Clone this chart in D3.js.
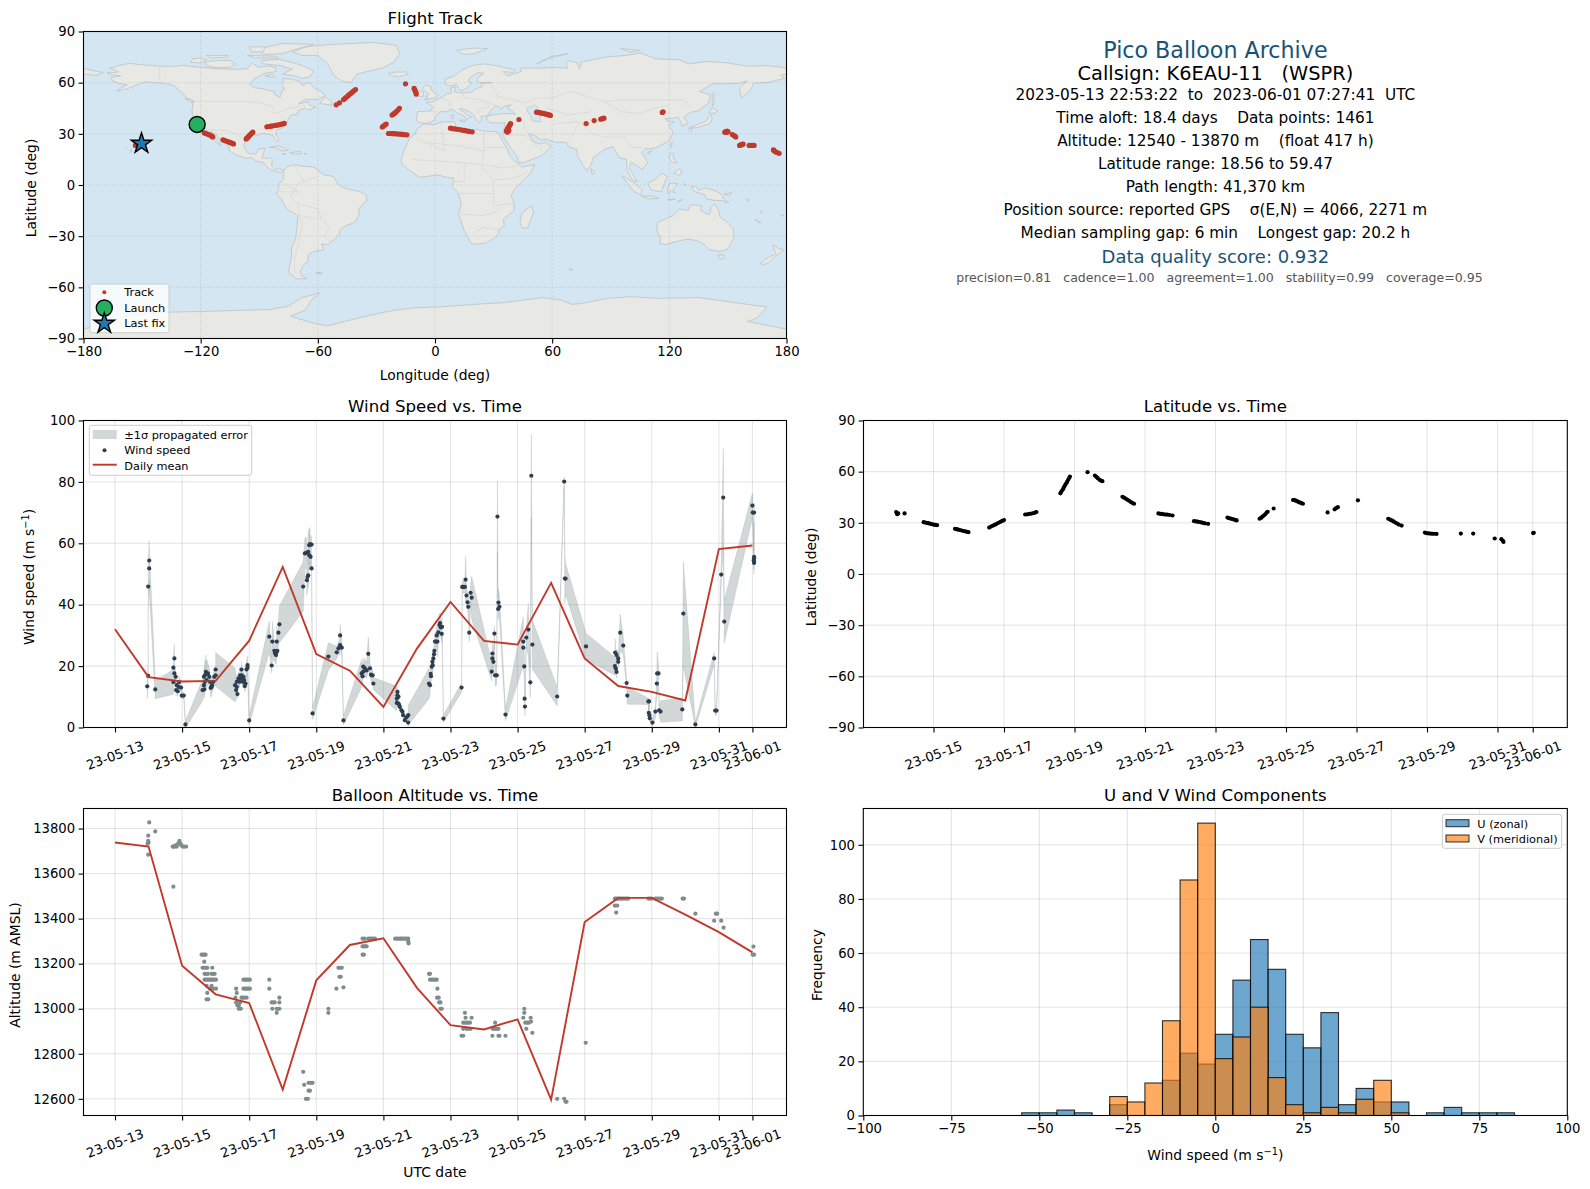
<!DOCTYPE html>
<html>
<head>
<meta charset="utf-8">
<script src="https://cdn.jsdelivr.net/npm/d3@7/dist/d3.min.js"></script>
<style>
html, body { margin: 0; padding: 0; background: #fff; }
svg { display: block; }
text { font-family: "DejaVu Sans", sans-serif; fill: #000; white-space: pre; }
</style>
</head>
<body>
<div id="chart"></div>
<script>
// days are counted from 2023-05-13 00:00 UTC
var tickDaysWind = [0, 2, 4, 6, 8, 10, 12, 14, 16, 18, 19];
var tickDaysLat = [2, 4, 6, 8, 10, 12, 14, 16, 18, 19];

var meanDays = [0, 1, 2, 3, 4, 5, 6, 7, 8, 9, 10, 11, 12, 13, 14, 15, 16, 17, 18, 19];
var meanWind = [32, 16.4, 15, 15.2, 28.3, 52.3, 23.9, 18.5, 6.7, 25.7, 40.9, 28.2, 27, 47.1, 22.5, 13.5, 11.6, 8.8, 58.1, 59.3];
var meanAlt = [13738, 13720, 13191, 13064, 13025, 12641, 13126, 13283, 13313, 13093, 12927, 12908, 12953, 12596, 13385, 13492, 13492, 13418, 13340, 13250];

var windDays = [
    0.96, 0.99, 0.99, 1.02, 1.02, 1.20,
    1.74, 1.74, 1.77, 1.77, 1.81, 1.82, 1.84, 1.87, 1.90, 1.91, 1.97, 1.99, 2.05, 2.10,
    2.61, 2.65, 2.65, 2.66, 2.68, 2.68, 2.71, 2.73, 2.73, 2.77, 2.81, 2.83, 2.85, 2.88, 2.89, 2.93, 2.96, 3.00, 3.00,
    3.58, 3.61, 3.63, 3.63, 3.65, 3.68, 3.71, 3.73, 3.76, 3.77, 3.78, 3.81, 3.83, 3.85, 3.87, 3.89, 3.92, 3.95, 3.95, 4.00,
    4.60, 4.67, 4.69, 4.75, 4.77, 4.80, 4.82, 4.82, 4.84, 4.87, 4.90,
    5.61, 5.66, 5.71, 5.72, 5.74, 5.76, 5.76, 5.79, 5.79, 5.81, 5.83, 5.86, 5.86, 5.89,
    6.36, 6.61, 6.66, 6.71, 6.71, 6.76, 6.81,
    7.35, 7.38, 7.40, 7.40, 7.45, 7.50, 7.55, 7.60, 7.63, 7.65, 7.68, 7.70,
    8.40, 8.40, 8.42, 8.42, 8.45, 8.45, 8.47, 8.49, 8.54, 8.57, 8.59, 8.64, 8.69, 8.74, 8.74,
    9.36, 9.39, 9.41, 9.42, 9.44, 9.46, 9.47, 9.49, 9.51, 9.52, 9.54, 9.57, 9.59, 9.61, 9.64, 9.67, 9.69, 9.71, 9.74, 9.75, 9.79,
    10.33, 10.35, 10.38, 10.43, 10.45, 10.48, 10.51, 10.53, 10.56, 10.60, 10.63,
    11.23, 11.25, 11.25, 11.28, 11.31, 11.33, 11.38, 11.40, 11.42, 11.43, 11.46, 11.64,
    12.17, 12.17, 12.20, 12.21, 12.22, 12.26, 12.32, 12.38, 12.41, 12.44,
    13.18, 13.39, 13.41, 13.43, 14.04,
    14.90, 14.91, 14.93, 14.95, 14.95, 15.00, 15.00, 15.06, 15.15, 15.25, 15.27,
    15.90, 15.91, 15.92, 15.93, 15.94, 16.02, 16.11, 16.15, 16.16, 16.20, 16.22, 16.26,
    16.91, 16.94, 17.30, 17.86, 17.89, 17.93, 18.07, 18.13, 18.16,
    19.00, 19.01, 19.04, 19.05, 19.05, 19.05, 19.05, 19.05
];
var windSpeed = [
    13.4, 16.8, 45.9, 54.4, 51.8, 12.4,
    14.8, 19.5, 22.5, 17.6, 16.5, 12.2, 13.8, 11.8, 13.2, 14.8, 13, 10.4, 10.4, 1,
    12.2, 13.8, 16.5, 12.4, 17, 14.9, 18.1, 15.4, 17.6, 17.6, 16.5, 14.9, 12.9, 13.2, 13.8, 14.9, 16.5, 17, 18.9,
    13.8, 12.2, 14.9, 13.2, 10.9, 16, 14.9, 17, 16, 18.9, 17, 14.9, 16.5, 15.4, 13.5, 14.3, 18.9, 20.3, 19.5, 2.3,
    29.6, 20.2, 28, 25, 24.1, 23.6, 24.6, 28, 25, 30.9, 33.6,
    45.9, 56.7, 56.9, 48, 49.1, 57.2, 49.6, 59.4, 56.1, 59.7, 55.6, 59.6, 51.8, 4.6,
    23.1, 24.5, 25.8, 26.8, 30, 26, 2.3,
    17.6, 16.7, 19.8, 18.2, 19.3, 18.6, 24, 19.3, 17.2, 17, 17, 14.3,
    9.4, 8, 11.6, 10.5, 10, 7.8, 7.3, 6.7, 5.6, 5.1, 4, 2.4, 3.3, 1.6, 4,
    14.3, 13.8, 17.5, 16.7, 19.8, 21.4, 20.3, 22.5, 23.9, 25, 28, 28, 30, 28, 31, 33.4, 34, 32.6, 30.5, 32.8, 2.9,
    13, 45.8, 45.8, 45.8, 48.2, 43, 40.8, 39.3, 30.9, 43.9, 42.3,
    18.2, 24.1, 22.5, 21.4, 30.6, 17, 17, 68.7, 38.6, 40.7, 39.3, 4.2,
    28, 26, 19.9, 9.4, 6.8, 29.3, 31.9, 14.7, 82, 27,
    10.1, 80.1, 48.5, 48.5, 26.4,
    20, 24.4, 19.2, 18.1, 23.6, 22.5, 21.4, 30.9, 26.7, 14.5, 10.4,
    8.5, 4.8, 8.5, 4, 3, 1.6, 5.2, 14.3, 17.6, 17.6, 5.6, 5.2,
    5.9, 37.1, 1, 22.5, 5.5, 5.5, 49.8, 74.9, 34.5,
    72.3, 70, 54.5, 70, 55.6, 55.1, 54, 53.6
];
var windErr = [
    4, 3, 8, 6.5, 7, 3,
    4, 3, 4.5, 3, 2, 2, 1.5, 1.5, 1.5, 2, 1.5, 1, 1, 1.2,
    3.5, 2.5, 3, 3, 5, 3, 5.5, 3, 4.5, 3.5, 3, 2.5, 3, 3, 2.5, 2.5, 3, 3, 5.5,
    5.5, 3, 2.5, 2, 1.5, 2, 2, 2.5, 2, 2.5, 2, 2, 2, 2, 2, 2, 2.5, 3, 3, 1.5,
    5, 2.5, 6.5, 3, 3, 3, 2, 5, 2, 4, 6,
    8, 5, 5, 5, 4, 7, 4, 5.5, 5, 5.5, 4, 3, 3, 2,
    4.5, 2, 2, 3, 3.5, 3, 1.5,
    4.5, 2.5, 3, 2, 3, 2.5, 5.5, 2, 2, 2, 2, 2,
    4, 1.5, 1.5, 1.5, 1, 1, 1, 1, 1, 1, 1, 1, 1, 1.2, 3.2,
    5, 3, 2, 2, 2.5, 2.5, 2.5, 3, 3, 3, 3, 3, 3, 5, 3, 3.5, 3.5, 3, 3, 3, 1.2,
    1.5, 2, 2, 2, 7.5, 2.5, 2.5, 2.5, 3, 3, 7,
    3, 4, 3, 3, 2.5, 3.5, 3, 11.5, 3.5, 4.5, 3.5, 2,
    8, 6, 4, 1.5, 3, 3, 8.5, 5, 13.5, 8,
    3, 1.5, 8, 5, 4.3,
    3, 4.5, 2, 2, 2, 2, 2, 6, 3, 1.5, 2.8,
    1, 1, 1, 1, 1, 1.2, 2, 3, 7, 3, 1.5, 3.5,
    3.8, 17, 1, 2, 1.5, 1.5, 3, 16, 7,
    4, 5, 3, 3, 3, 3, 3, 3.5
];

var latDays = [
    0.94, 0.97, 1.00, 1.18,
    1.72, 1.76, 1.80, 1.85, 1.90, 1.95, 2.00, 2.05, 2.10,
    2.61, 2.66, 2.70, 2.75, 2.80, 2.85, 2.90, 2.95, 2.99,
    3.58, 3.63, 3.68, 3.73, 3.78, 3.84, 3.90, 3.95, 4.00,
    4.60, 4.66, 4.72, 4.78, 4.84, 4.88, 4.92,
    5.60, 5.63, 5.67, 5.70, 5.73, 5.76, 5.79, 5.82, 5.85, 5.87,
    6.37, 6.58, 6.62, 6.66, 6.71, 6.75, 6.79,
    7.36, 7.40, 7.45, 7.50, 7.55, 7.60, 7.65, 7.69,
    8.38, 8.43, 8.48, 8.53, 8.58, 8.63, 8.70, 8.78,
    9.39, 9.44, 9.49, 9.54, 9.59, 9.64, 9.70, 9.79,
    10.34, 10.38, 10.43, 10.48, 10.53, 10.57, 10.60,
    11.25, 11.29, 11.33, 11.37, 11.41, 11.45, 11.48, 11.65,
    12.20, 12.24, 12.28, 12.32, 12.36, 12.40, 12.44, 12.48,
    13.18, 13.38, 13.42, 13.47, 14.04,
    14.90, 14.95, 15.00, 15.05, 15.10, 15.15, 15.20, 15.28,
    15.94, 15.98, 16.04, 16.10, 16.15, 16.20, 16.27,
    16.96, 17.31, 17.92, 18.11, 18.15, 18.17, 19.01, 19.03
];
var latDeg = [
    36.3, 35.1, 35.5, 35.5,
    30.4, 30.2, 30, 29.8, 29.5, 29.2, 29, 28.8, 28.6,
    26.5, 26.3, 26, 25.8, 25.5, 25.2, 25, 24.7, 24.5,
    27.2, 27.8, 28.3, 28.8, 29.3, 30, 30.6, 31.1, 31.6,
    34.9, 35, 35.2, 35.4, 35.7, 36, 36.3,
    47.3, 48.5, 49.6, 50.8, 52, 53, 54, 55.2, 56.3, 57.1,
    59.7, 57.7, 57, 56.2, 55.2, 54.8, 54.4,
    45.3, 44.8, 44.2, 43.5, 42.9, 42.2, 41.6, 41.2,
    35.5, 35.3, 35.2, 35, 34.9, 34.8, 34.6, 34.3,
    31, 30.9, 30.7, 30.5, 30.3, 30, 29.7, 29.4,
    33.1, 32.8, 32.5, 32.2, 31.9, 31.6, 31.4,
    32.4, 32.9, 33.6, 34.3, 35, 36, 36.5, 38.4,
    43.4, 43.3, 43, 42.6, 42.2, 41.9, 41.5, 41.2,
    36.1, 37.9, 38.6, 39.2, 43.2,
    32.4, 31.9, 31.4, 30.8, 30.2, 29.6, 29, 28.4,
    24.3, 24, 23.8, 23.7, 23.6, 23.6, 23.5,
    23.7, 23.7, 20.8, 20.4, 19.6, 18.8, 24, 24.2
];

var altDays = [
    0.97, 0.99, 0.99, 1.00, 0.99, 1.02, 1.20, 1.74,
    1.72, 1.75, 1.78, 1.80, 1.84, 1.88, 1.92, 1.95, 1.98, 2.02, 2.06, 2.12,
    2.58, 2.62, 2.66, 2.70, 2.66,
    2.61, 2.66, 2.71, 2.75, 2.90,
    2.67, 2.72, 2.77, 2.88, 2.93, 2.97,
    2.67, 2.71, 2.75, 2.79, 2.83, 2.87, 2.91, 2.95, 3.01,
    2.73, 2.88, 2.83, 2.88, 2.93, 3.01, 2.75, 2.73, 2.78,
    3.61, 3.63, 3.59, 3.77, 3.85, 3.92, 3.61, 3.73, 3.65, 3.69, 3.75, 3.69, 3.80,
    3.83, 3.88, 3.92, 3.97, 4.02, 3.83, 3.88, 3.92, 3.97, 4.02,
    4.60, 4.60, 4.90, 4.67, 4.72, 4.76, 4.90, 4.69, 4.82, 4.86, 4.90, 4.82,
    5.61, 5.64, 5.77, 5.83, 5.89, 5.77, 5.81, 5.69, 5.75,
    6.36, 6.36,
    6.60, 6.81, 6.66, 6.70, 6.76, 6.69, 6.73,
    7.38, 7.44, 7.55, 7.60, 7.65, 7.70, 7.75, 7.38, 7.42, 7.46, 7.50, 7.38, 7.42,
    8.35, 8.40, 8.45, 8.50, 8.54, 8.59, 8.64, 8.69, 8.74, 8.74, 8.75,
    9.36, 9.39, 9.39, 9.44, 9.49, 9.54, 9.59, 9.61, 9.60, 9.65, 9.66, 9.70, 9.70, 9.74,
    10.43, 10.45, 10.63, 10.38, 10.43, 10.48, 10.53, 10.58, 10.38, 10.48, 10.53, 10.60, 10.33, 10.38,
    11.33, 11.26, 11.32, 11.38, 11.43, 11.25, 11.43, 11.46, 11.64,
    12.20, 12.20, 12.17, 12.39, 12.23, 12.29, 12.33, 12.40, 12.26, 12.44,
    13.18, 13.39, 13.43, 13.46, 14.03,
    14.90, 14.94, 14.98, 15.02, 15.06, 15.10, 15.15, 15.20, 15.25, 15.30, 14.90, 14.97, 14.94,
    15.90, 15.95, 16.00, 16.10, 16.15, 16.20, 16.25, 16.30,
    16.92, 16.96, 17.30, 17.91, 17.95, 17.86, 18.07, 18.14, 19.03, 19.01, 19.05
];
var altMeters = [
    13733, 13769, 13745, 13738, 13684, 13827, 13787, 13542,
    13720, 13720, 13720, 13725, 13720, 13733, 13745, 13733, 13725, 13720, 13720, 13720,
    13240, 13240, 13240, 13240, 13209,
    13182, 13182, 13182, 13182, 13182,
    13155, 13155, 13155, 13155, 13155, 13155,
    13129, 13129, 13129, 13129, 13129, 13129, 13129, 13129, 13129,
    13102, 13102, 13089, 13089, 13089, 13089, 13070, 13042, 13042,
    13089, 13070, 13049, 13049, 13049, 13049, 13028, 13028, 13015, 13000, 13000, 13015, 13049,
    13129, 13129, 13129, 13129, 13129, 13089, 13089, 13089, 13089, 13089,
    13129, 13089, 13049, 13028, 13028, 13028, 13028, 13000, 13000, 13000, 13000, 12982,
    12720, 12662, 12671, 12671, 12671, 12636, 12636, 12600, 12600,
    13000, 12982,
    13089, 13095, 13182, 13182, 13182, 13142, 13142,
    13311, 13311, 13311, 13311, 13311, 13311, 13311, 13277, 13277, 13277, 13277, 13240, 13240,
    13311, 13311, 13311, 13311, 13311, 13311, 13311, 13311, 13311, 13300, 13290,
    13155, 13155, 13129, 13129, 13129, 13129, 13129, 13089, 13049, 13049, 13028, 13028, 13000, 13000,
    12982, 12960, 12960, 12938, 12938, 12938, 12938, 12938, 12911, 12911, 12911, 12911, 12880, 12880,
    12938, 12911, 12911, 12911, 12911, 12880, 12880, 12880, 12880,
    13000, 12982, 12960, 12960, 12938, 12938, 12938, 12943, 12911, 12893,
    12600, 12600, 12587, 12587, 12849,
    13489, 13489, 13489, 13489, 13489, 13489, 13489, 13489, 13489, 13489, 13458, 13458, 13427,
    13489, 13489, 13489, 13489, 13489, 13489, 13489, 13489,
    13489, 13489, 13422, 13422, 13422, 13391, 13391, 13360, 13276, 13240, 13240
];

// left edges of the 5 m/s bins
var binEdges = [-55, -50, -45, -40, -35, -30, -25, -20, -15, -10, -5, 0, 5, 10, 15, 20, 25, 30, 35, 40, 45, 50, 55, 60, 65, 70, 75, 80];
var uCounts = [1, 1, 2, 1, 0, 4, 0, 0, 13, 23, 19, 30, 50, 65, 54, 30, 25, 38, 4, 10, 5, 5, 0, 1, 3, 1, 1, 1];
var vCounts = [0, 0, 0, 0, 0, 7, 5, 12, 35, 87, 108, 21, 29, 40, 14, 4, 1, 3, 1, 6, 13, 1, 0, 0, 0, 0, 0, 0];

var trackLon = [
    -153.4, -118.2, -117.4, -116.6, -115.8, -115, -114.3, -113.8,
    -108.6, -107.8, -107, -106.2, -105.4, -104.6, -103.8, -103.2,
    -96.7, -96.2, -95.7, -95.2, -94.7, -94.2, -93.7, -93.3,
    -86.1, -85, -84, -83, -82, -81, -80, -79, -78, -77.2,
    -50.6, -48.9, -46.8, -46, -45.2, -44.4, -43.6, -42.8, -42, -41.4, -40.7,
    -15.1, -10.7, -10.4, -10.1, -9.8, -9.6,
    -22, -21.2, -20.4, -19.6, -18.9, -18.2,
    -27, -26.4, -25.7, -25,
    -23.8, -22.8, -21.8, -20.8, -19.8, -18.8, -17.8, -16.8, -15.8, -14.4,
    7.9, 9, 10.2, 11.4, 12.6, 13.8, 15, 16.2, 17.4, 19,
    36.6, 36.8, 37, 37.3, 37.6, 37.9, 38.2, 38.5, 38.7, 37.2, 37.8, 43,
    52, 52.8, 53.6, 54.4, 55.2, 56, 56.8, 57.6, 58.4, 59.1,
    77.4, 81.5, 84.9, 85.7, 86.5, 116.4, 116.8,
    148.4, 149, 149.6, 150.1, 149.2, 152.3, 153.2, 154,
    156, 156.6, 157.2, 157.8, 160.9, 161.7, 162.5, 163.4,
    173.3, 173.6, 174, 175, 176.2
];
var trackLat = [
    23.2, 30.6, 30.2, 29.9, 29.5, 29.1, 28.6, 28.2,
    26.5, 26.2, 25.8, 25.5, 25.1, 24.8, 24.4, 24.1,
    27, 27.6, 28.2, 28.8, 29.4, 30, 30.5, 31,
    34.1, 34.3, 34.5, 34.7, 34.9, 35.1, 35.3, 35.6, 35.8, 36.1,
    47, 48.2, 50.1, 50.9, 51.7, 52.5, 53.3, 54, 54.8, 55.4, 56,
    59.3, 56.6, 55.9, 55.1, 54.1, 53.3,
    41, 41.7, 42.4, 43.2, 44.1, 45,
    34, 34.6, 35.2, 35.7,
    30.2, 30.2, 30.1, 30.1, 30, 29.9, 29.8, 29.7, 29.5, 29.4,
    33.3, 33.1, 32.9, 32.7, 32.5, 32.2, 32, 31.7, 31.4, 31.2,
    31.5, 32, 32.6, 33.2, 33.8, 34.4, 35, 35.5, 36, 31, 32, 38.4,
    42.7, 42.6, 42.4, 42.2, 42, 41.8, 41.6, 41.4, 41.1, 40.8,
    36, 37.8, 38.6, 38.9, 39.2, 42.5, 42.9,
    31, 31.3, 31.6, 31.2, 30.8, 29.6, 28.9, 28.2,
    23.2, 23.5, 23.8, 24, 23.2, 23.2, 23.2, 23.2,
    20.6, 20.2, 19.8, 19.1, 18.56
];
var launchLon = -121.8, launchLat = 35.5;
var lastLon = -150.3, lastLat = 24.3;

var infoLines = [
    "Pico Balloon Archive",
    "Callsign: K6EAU-11   (WSPR)",
    "2023-05-13 22:53:22  to  2023-06-01 07:27:41  UTC",
    "Time aloft: 18.4 days    Data points: 1461",
    "Altitude: 12540 - 13870 m    (float 417 h)",
    "Latitude range: 18.56 to 59.47",
    "Path length: 41,370 km",
    "Position source: reported GPS    σ(E,N) = 4066, 2271 m",
    "Median sampling gap: 6 min    Longest gap: 20.2 h",
    "Data quality score: 0.932",
    "precision=0.81   cadence=1.00   agreement=1.00   stability=0.99   coverage=0.95"
];
var infoBaselines = [58.3, 80, 100.3, 123.3, 145.9, 169.3, 192.3, 215, 238.3, 263.3, 282.3];
var infoSizes = [22.2, 19.4, 15.3, 15.3, 15.3, 15.3, 15.3, 15.3, 15.3, 18, 12.55];
var infoColors = ["#1A5276", "#000", "#000", "#000", "#000", "#000", "#000", "#000", "#000", "#1A5276", "#555"];
var infoCenters = [1215.4, 1215.4, 1215.4, 1215.4, 1215.4, 1215.4, 1215.4, 1215.4, 1215.4, 1215.4, 1219.5];

// rough coastlines, [lon, lat]
var landPolygons = [
    // North America
    [[-168,65.7],[-162,66.2],[-164,67.5],[-166.5,68.4],[-161,70.3],[-156.5,71.3],[-150,70.5],[-141,69.7],[-135,69.5],[-128,70.2],[-125,69.5],[-115,68.5],[-108,68],[-102,67.8],[-96,68.2],[-94,71.5],[-90,69],[-85,69.8],[-81.5,68.8],[-81.5,66.5],[-87,65.5],[-90,63.8],[-93,61.8],[-94.8,59],[-92.5,57],[-88,56.5],[-85,55.3],[-82.3,55],[-82,52.9],[-79.5,51.3],[-79,52.5],[-78.5,55],[-77,56],[-78.5,58.8],[-77.5,60.5],[-78,62.4],[-73,62],[-69.5,61],[-68,58.5],[-65.5,59.8],[-64,60],[-61.5,56.5],[-58,54.5],[-56,52.5],[-60,50.2],[-66.5,50.2],[-70,47.5],[-65,49],[-64.5,47],[-61,45.5],[-65,44],[-66.5,45],[-70,43.7],[-70.5,41.7],[-74,40.7],[-75.5,38],[-76,35.5],[-78,33.8],[-81,32],[-81.5,30],[-80,26.8],[-80.5,25.2],[-82,27],[-83,29],[-85,29.7],[-89,30.2],[-90,29.2],[-94,29.6],[-97,28],[-97.5,25],[-97.8,22.5],[-96,19],[-94.5,18.2],[-91.5,18.5],[-90.5,21],[-87,21.5],[-88,18],[-88.7,15.8],[-84,15.8],[-83.3,14.8],[-83.7,11],[-82,9],[-79.5,9.5],[-77.5,8.7],[-78,7.5],[-80,7.5],[-81.5,8],[-83.5,8.5],[-85.5,10],[-87.5,13],[-91.5,14],[-94,16],[-97,15.8],[-101.5,17.5],[-105.5,20],[-105.5,22.5],[-109,25.8],[-112.5,29.8],[-114.7,31.5],[-113,28],[-110,24],[-109.5,23],[-112,25],[-115,28],[-116.5,31.5],[-117.3,33],[-120.5,34.5],[-122,36.8],[-124,40],[-124.5,43],[-124,46.5],[-124.5,48.4],[-123,49],[-127,51],[-130,54.5],[-133.5,58],[-138,59.5],[-144,60],[-148,60.5],[-152,59],[-154,58],[-158,56.3],[-163,55],[-160,57.5],[-157.5,58.8],[-162,59.5],[-165,61],[-166,63],[-161,64],[-166,64.7]],
    // Arctic Canada
    [[-80,73.7],[-72,71.5],[-68,70],[-62,67],[-64,63.5],[-68,62.5],[-72,64],[-78,65],[-73,68],[-79,70],[-88,71],[-89,73]],
    [[-117,70],[-112,68.7],[-105,69],[-102,71],[-105,73],[-112,73],[-118,72]],
    [[-90,80],[-78,83],[-62,82.5],[-70,80],[-78,77],[-88,76.5]],
    [[-125,72],[-120,71.5],[-117,73.5],[-120,74.5],[-124,74]],
    [[-96,76],[-82,75.5],[-80,74.5],[-92,74.5]],
    [[-117,76],[-106,76],[-106,75],[-115,74.5]],
    [[-95,81],[-87,81],[-88,78],[-94,78]],
    [[-87,64],[-82,63],[-83,65]],
    [[-59,47.8],[-53,46.8],[-53,49],[-56,51.5],[-58,49.5]],
    [[-128,50.7],[-125,50],[-123.5,48.5],[-125.5,48.8]],
    // Caribbean, Hawaii
    [[-85,22],[-80,23],[-75,20.5],[-78,20],[-82,22]],
    [[-74.5,19],[-69,19.7],[-68.5,18.5],[-72,18]],
    [[-78.3,18.4],[-76.3,18.2],[-77.3,17.8]],
    [[-67.2,18.5],[-65.6,18.4],[-66.8,17.9]],
    [[-156,20.7],[-155,19.8],[-155.7,19]],
    [[-158.2,21.6],[-157.7,21.5],[-158,21.2]],
    // Greenland, Iceland, Europe islands
    [[-73,78],[-66,81],[-55,82.3],[-32,83.6],[-20,82],[-18,77],[-21,72],[-27,68.5],[-33,67],[-40,65],[-43,60],[-48,61],[-52,64.5],[-54,69],[-55,71],[-60,76],[-68,76]],
    [[-24,65.5],[-20,66.2],[-15,66.3],[-13.7,65],[-18,63.5],[-22.5,64]],
    [[-5.5,50],[1,51.2],[1.7,52.7],[0,53.5],[-2,56],[-2,57.7],[-5,58.6],[-6.3,56.5],[-4.7,54.7],[-3,53.4],[-5,52],[-3.5,51.3]],
    [[-10,52],[-6,52],[-6,54.5],[-8,55.2],[-10,54]],
    [[11,79],[20,80.3],[27,80],[20,77],[15,76.5]],
    [[52,71],[56,73.5],[68,77],[60,75.5],[55,72.5]],
    [[95,80],[105,79],[100,78]],
    [[8.5,41],[9.7,41],[9.5,39],[8.5,39]],
    [[12.5,38],[15.5,38],[15,36.7]],
    // Eurasia
    [[-5.5,36],[-9,37],[-9.5,39],[-9,43],[-2,43.4],[-1.2,46],[-4.5,48.4],[-1.5,48.7],[1.5,50.2],[3.5,51.4],[6,53.4],[8.5,54],[8,57],[10.5,57.5],[10,54.5],[14,54],[19,54.5],[21,56.5],[24,57.5],[24,59.5],[29,60],[23,60],[21.5,61],[22,63],[25,65.5],[22,65.8],[18,63],[17,61],[18.8,59.8],[16.5,57],[14.3,55.5],[12.8,55.5],[11,59],[8,58],[5.5,59],[5,62],[10,64],[14,67.5],[19,70],[25,71],[31,70],[41,67.5],[40,66],[35,66.5],[37,64],[40,65],[44,66.5],[44,68.5],[54,68.5],[60,69],[68,68.5],[67,71],[69,73],[73,71.5],[74,68],[75,72],[81,73.5],[87,75],[98,76],[105,77.5],[113,74],[125,73.5],[130,71],[140,72.5],[150,71.5],[160,69.7],[170,70],[178,69],[180,68.5],[180,65],[177,64.5],[179,62.5],[170,60],[163,59.8],[162,56],[156.7,51],[156,57],[160,61],[155,59.5],[142,59.3],[135.5,54.7],[141,53],[140,48],[135,43.5],[130.5,42.5],[127.5,39.7],[129.5,36],[126.5,34.5],[126,37],[124.5,39.8],[121.5,39],[118,39],[119,37.3],[122.5,37],[119.5,35],[122,31],[120,26],[114,22.3],[110,21],[108,21.5],[105.8,19],[109,13],[106,9],[105,10],[100.5,13.5],[99.5,10],[103.5,2],[101,3],[98.5,8],[98,15],[94.5,16],[91,22.5],[87,21],[81,16],[80,12],[78,8.2],[76,11],[73,17],[72.5,21],[69,22],[67,25],[61,25.2],[57,27],[54,26.5],[51,29],[48,30],[50,26],[51.5,25],[54,24],[56.3,25],[59.5,22.5],[55,17.5],[52,16],[45,13],[43,13],[42,17],[39,21],[35.5,27.5],[34.8,29.5],[34.9,31.5],[36,36.5],[32,36.2],[28,36.6],[26.5,38.5],[26.5,40],[29,41],[35,42],[41.5,41.5],[38,44.5],[37,45.3],[39,47],[35,46],[34,44.5],[33,45.5],[31,46.5],[28,43],[28,41.5],[26.2,40.7],[23.5,40],[24,38],[22.5,36.5],[21,38.5],[19.5,41.5],[18.5,42.5],[14,45],[12.5,44.5],[16,41.5],[18.5,40],[16.8,39],[16,38],[15.5,40],[11,42.5],[8.8,44.4],[6,43],[3.2,43],[0.5,40.5],[-0.5,38],[-2,36.8]],
    [[-180,68.5],[-175,67],[-170,66],[-173,64.3],[-180,65]],
    // Africa
    [[-5.5,35.8],[-1,35.2],[3,36.8],[10,37.2],[11,33.5],[15,32.5],[19,30.3],[21,32.8],[25,31.7],[32,31.2],[32.5,30],[34,27],[37,21],[38,18],[40,15],[43,12],[44.5,10.5],[51,12],[49,7],[45,2.5],[41,-2],[39,-6],[40.5,-11],[40.5,-15],[35,-20],[35.5,-24],[32.7,-26],[32.5,-28.5],[30,-31.5],[26,-34],[20,-34.8],[18.3,-34],[15,-27],[12,-17],[13.5,-11],[12,-5],[9,-1],[9.5,4],[6,4.5],[1,6],[-4,5],[-8,4.5],[-13,8.5],[-17,12],[-17.3,15],[-16,20],[-13,27.5],[-10,30],[-9.5,32.5]],
    [[49.3,-12],[50.4,-16],[47.5,-25],[45,-25.5],[43.5,-22],[44.5,-16.5]],
    // South America
    [[-77.5,8.7],[-75,11],[-72,12],[-68,11],[-62,10.5],[-57,6],[-52,5],[-50,1],[-48,-1],[-44,-2.5],[-38,-4],[-35,-6],[-35,-9],[-39,-14],[-39,-18],[-41,-22],[-45,-23.5],[-48.5,-26],[-49,-29],[-52,-32.5],[-55,-35],[-58,-34.5],[-57,-38],[-62,-39],[-65,-41],[-65,-45],[-67,-46.5],[-69,-50.5],[-68.5,-53],[-65.5,-55],[-71,-55],[-75,-51],[-73.5,-42],[-73.5,-37],[-71.5,-32],[-70.5,-24],[-70.3,-18],[-76,-14],[-79,-8],[-81.3,-5],[-80,-2.5],[-80,1],[-78.5,2],[-77.5,4]],
    [[-61,-51.5],[-58,-51.3],[-58.5,-52.3]],
    // Australia and around
    [[114,-22],[113.5,-26],[115.5,-32],[115,-34.3],[118,-35],[124,-33],[129,-31.7],[134,-32.5],[138,-35],[140.5,-38],[146,-39],[150,-37.5],[153,-31],[153,-26],[149,-21],[146,-19],[145.3,-15],[143,-11],[141.5,-13],[140.5,-17.5],[136,-15],[136.5,-12],[131,-11.5],[129.5,-15],[125,-14],[122,-18],[117,-20.5]],
    [[145,-41],[148,-41],[147.8,-43],[146,-43.5]],
    [[173,-35],[175.5,-37],[178.5,-38],[175,-41.5],[174,-39]],
    [[173,-41],[174,-42],[171,-45.5],[168,-46.7],[166.5,-46],[170,-43]],
    [[131,-0.8],[134,-1],[135,-3.2],[138,-1.6],[144,-3.5],[147,-6],[148,-8.5],[150.5,-10.5],[146.5,-9],[143,-9],[139,-8],[138,-5.5],[133,-4]],
    [[148,-5.5],[152,-4.2],[151,-6]],
    [[164,-20],[167,-22],[165.5,-22]],
    [[177.3,-17.5],[178.5,-18],[177.5,-18.3]],
    [[159.5,-8],[161,-9],[160,-9.5]],
    [[167,-15],[167.5,-16.5],[166.8,-16]],
    // South East Asia
    [[109,1.5],[113,3.2],[116,7],[119,5],[117.5,1],[116,-4],[111,-3],[109.5,-0.5]],
    [[95.5,5.5],[98,4],[103.5,0],[106,-3],[105.5,-5.8],[102,-4],[98.5,1]],
    [[105.5,-6.5],[111,-6.5],[114.5,-7.8],[110,-8.2]],
    [[119.5,-5.5],[120.5,-3],[123,-5],[122,-2],[124.5,1],[120,1],[119,-3]],
    [[120.5,18.5],[122,18.5],[122,16],[124,13],[121,13.5],[120,16]],
    [[122,7],[125.5,9.7],[126.5,7],[125,5.8]],
    [[124,-10],[127,-8.4],[125,-9.5]],
    [[119,-8.5],[123,-8.3],[120,-8.9]],
    [[127.5,1],[128.5,-0.5],[127.8,0]],
    [[120.2,23],[121.5,25.2],[121,22]],
    [[108.7,19],[111,20],[110,18.3]],
    [[80,9.7],[82,7.5],[80.5,6]],
    [[130.8,34],[135,35.7],[139,37.5],[140,40],[141.5,41],[142,39],[140.8,36],[137,34.7],[135,33.7],[132,33.5]],
    [[130,33.5],[131.7,33],[131,31],[130,32]],
    [[140.3,42],[141.7,45.4],[145,43.5],[143,42]],
    [[142,46],[143,49],[143,54],[142,53],[142,49]],
    [[69,-49],[70.5,-49.5],[69,-50]],
    // Antarctica
    [[-180,-84.5],[-165,-80],[-158,-76.5],[-135,-74.5],[-115,-74],[-100,-73.5],[-85,-73],[-75,-71],[-68,-66],[-59,-63.3],[-63,-67],[-66.5,-73.4],[-74,-77],[-62,-81],[-55.4,-82.6],[-43.4,-79.2],[-33,-76.3],[-21,-73.4],[-10,-72],[2.7,-71.4],[20,-70],[35,-69],[45,-67.5],[55,-66],[65,-67.5],[70,-70],[75,-69.5],[88,-66.5],[100,-65.5],[115,-66.5],[135,-66],[145,-67.5],[160,-70],[170,-71.5],[165,-78],[160,-80],[180,-84.5],[180,-90],[-180,-90]]
];
var lakePolygons = [
    [[47,45],[51,47],[53,45],[51,43],[53.8,41],[54,37],[50,37.5],[49,40.5],[47.5,43]]
];
var borderLines = [
    [[-123,49],[-95,49],[-89,48],[-83,46],[-82.5,42],[-79,43],[-75,45],[-70,46],[-67,47],[-67,45]],
    [[-141,70],[-141,60],[-135,59]],
    [[-117,32.5],[-106.5,31.8],[-101,29.5],[-97.5,26]],
    [[-60,5],[-70,1],[-74,-7],[-70,-11],[-60,-14],[-58,-20],[-54,-25],[-57,-30],[-53,-33.5]],
    [[-69.5,-18],[-68,-23],[-70,-33],[-72,-45],[-72,-51],[-68.5,-52.5]],
    [[-70,-11],[-69.5,-18],[-58,-20]],
    [[-78,1],[-70,-4],[-81,-4]],
    [[-72,12],[-67,1]],
    [[28,60],[32,52],[40,50],[47,48],[50,51],[60,51],[70,55],[80,51],[87,49],[98,50],[110,50],[120,50],[127,50],[131,45]],
    [[74,37],[80,30],[88,28],[97,28],[100,22],[106,22]],
    [[87,49],[95,43],[105,42],[112,45],[120,47]],
    [[52,42],[58,45],[68,41],[80,43]],
    [[61,36],[74,37],[68,25]],
    [[45,38],[46,33],[48,30]],
    [[35,29.5],[47,29],[52,23],[55,20]],
    [[-1.8,43.3],[3,42.5]],
    [[2.5,51],[8,49],[7.5,44]],
    [[14,54],[15,51],[24,50],[28,46],[22,44],[22.5,41]],
    [[24,50],[32,46]],
    [[-8.7,27.5],[-5,25],[12,23],[25,20],[25,31.5]],
    [[25,22],[37,22]],
    [[-12,15],[15,13],[24,12],[34,10],[42,11]],
    [[12,-5],[30,-5],[30,-12],[40,-11]],
    [[12,-17],[25,-18],[33,-15]],
    [[20,-28],[25,-25],[32,-26]],
    [[15,13],[15,2],[10,2]],
    [[25,20],[24,10],[30,3],[30,-5]],
    [[30,3],[41,4],[48,8]],
    [[3,37],[5,20],[-5,25]]
];

var width = 1590, height = 1189;
var tickFont = 13.2;
var labelFont = 13.9;
var legendFont = 11.3;
var red = "#C0392B";

var svg = d3.select("#chart").append("svg")
    .attr("width", width)
    .attr("height", height);

var defs = svg.append("defs");
var clipCount = 0;

function makePanel(box, titleText, titleGap) {
    var g = svg.append("g");
    var id = "clip" + (clipCount++);
    defs.append("clipPath").attr("id", id).append("rect")
        .attr("x", box.left).attr("y", box.top)
        .attr("width", box.right - box.left).attr("height", box.bottom - box.top);
    var panel = {
        box: box,
        g: g,
        back: g.append("g"),
        marks: g.append("g").attr("clip-path", "url(#" + id + ")"),
        front: g.append("g")
    };
    panel.front.append("rect")
        .attr("x", box.left).attr("y", box.top)
        .attr("width", box.right - box.left).attr("height", box.bottom - box.top)
        .attr("fill", "none").attr("stroke", "#000").attr("stroke-width", 1.1);
    panel.front.append("text")
        .attr("x", (box.left + box.right) / 2).attr("y", box.top - titleGap)
        .attr("text-anchor", "middle").attr("font-size", 16.6)
        .text(titleText);
    return panel;
}

function drawGrid(layer, box, xScale, xTicks, yScale, yTicks, stroke, opacity, dash, lineWidth) {
    layer.selectAll("line.gx").data(xTicks).enter().append("line")
        .attr("class", "gx")
        .attr("x1", function (d) { return xScale(d); }).attr("x2", function (d) { return xScale(d); })
        .attr("y1", box.top).attr("y2", box.bottom);
    layer.selectAll("line.gy").data(yTicks).enter().append("line")
        .attr("class", "gy")
        .attr("y1", function (d) { return yScale(d); }).attr("y2", function (d) { return yScale(d); })
        .attr("x1", box.left).attr("x2", box.right);
    layer.selectAll("line.gx,line.gy")
        .attr("stroke", stroke).attr("stroke-opacity", opacity)
        .attr("stroke-width", lineWidth).attr("stroke-dasharray", dash);
}

function drawAxes(panel, xScale, xTicks, xFormat, yScale, yTicks, rotated) {
    var box = panel.box;
    var bottom = d3.axisBottom(xScale).tickValues(xTicks).tickSize(4.9).tickPadding(3.5).tickFormat(xFormat);
    var left = d3.axisLeft(yScale).tickValues(yTicks).tickSize(4.9).tickPadding(3.5).tickFormat(d3.format("d"));
    var gx = panel.front.append("g").attr("transform", "translate(0," + box.bottom + ")").call(bottom);
    var gy = panel.front.append("g").attr("transform", "translate(" + box.left + ",0)").call(left);
    gx.select(".domain").remove();
    gy.select(".domain").remove();
    gx.selectAll("text").attr("font-size", tickFont).attr("font-family", null);
    gy.selectAll("text").attr("font-size", tickFont).attr("font-family", null);
    gx.selectAll("line").attr("stroke-width", 1.1);
    gy.selectAll("line").attr("stroke-width", 1.1);
    if (rotated) {
        gx.selectAll("text")
            .attr("y", 0).attr("dy", null)
            .attr("dominant-baseline", "central")
            .attr("transform", "translate(-0.5,28) rotate(-20)");
    }
}

function yLabel(panel, x, textValue, exponent) {
    var cy = (panel.box.top + panel.box.bottom) / 2 + 3;
    addLabel(panel.front, textValue, exponent)
        .attr("text-anchor", "middle")
        .attr("transform", "translate(" + x + "," + cy + ") rotate(-90)");
}

function xLabel(panel, y, textValue, exponent) {
    addLabel(panel.front, textValue, exponent)
        .attr("text-anchor", "middle")
        .attr("x", (panel.box.left + panel.box.right) / 2)
        .attr("y", y);
}

// axis label with an optional m s^-1 style exponent before the closing bracket
function addLabel(layer, textValue, exponent) {
    var t = layer.append("text").attr("font-size", labelFont);
    if (!exponent) {
        t.text(textValue);
        return t;
    }
    t.append("tspan").text(textValue);
    t.append("tspan").attr("font-size", 9.8).attr("dy", -5).text(exponent);
    t.append("tspan").attr("dy", 5).text(")");
    return t;
}

function dayDate(d) {
    return new Date(Date.UTC(2023, 4, 13) + d * 86400000);
}

function legendBox(panel, x, y, w, h) {
    panel.front.append("rect")
        .attr("x", x).attr("y", y).attr("width", w).attr("height", h).attr("rx", 2.5)
        .attr("fill", "#fff").attr("fill-opacity", 0.8)
        .attr("stroke", "#ccc").attr("stroke-width", 1);
}

function legendText(panel, x, y, label) {
    panel.front.append("text").attr("x", x).attr("y", y).attr("font-size", legendFont).text(label);
}

var dateFmt = d3.utcFormat("%y-%m-%d");
var gridColor = "#b0b0b0";

// ---- flight track ----
var mapBox = { left: 83.5, right: 786.5, top: 31.5, bottom: 338.5 };
var mapPanel = makePanel(mapBox, "Flight Track", 7.5);
var lonScale = d3.scaleLinear().domain([-180, 180]).range([mapBox.left, mapBox.right]);
var latScale = d3.scaleLinear().domain([-90, 90]).range([mapBox.bottom, mapBox.top]);
var geoLine = d3.line().x(function (d) { return lonScale(d[0]); }).y(function (d) { return latScale(d[1]); });

mapPanel.back.append("rect")
    .attr("x", mapBox.left).attr("y", mapBox.top)
    .attr("width", mapBox.right - mapBox.left).attr("height", mapBox.bottom - mapBox.top)
    .attr("fill", "#D4E6F1");
mapPanel.marks.selectAll("path.land").data(landPolygons).enter().append("path")
    .attr("class", "land")
    .attr("d", function (d) { return geoLine(d) + "Z"; })
    .attr("fill", "#E8E8E4").attr("stroke", "#BCC3C6").attr("stroke-width", 0.8).attr("stroke-linejoin", "round");
mapPanel.marks.selectAll("path.border").data(borderLines).enter().append("path")
    .attr("class", "border")
    .attr("d", geoLine)
    .attr("fill", "none").attr("stroke", "#D6D8D6").attr("stroke-width", 0.7);
mapPanel.marks.selectAll("path.lake").data(lakePolygons).enter().append("path")
    .attr("class", "lake")
    .attr("d", function (d) { return geoLine(d) + "Z"; })
    .attr("fill", "#D4E6F1").attr("stroke", "#BCC3C6").attr("stroke-width", 0.7);
var mapGrid = mapPanel.marks.append("g");
drawGrid(mapGrid, mapBox, lonScale, [-120, -60, 0, 60, 120], latScale, [-60, -30, 0, 30, 60], "#7F8C8D", 0.25, "2,2", 0.8);
mapPanel.marks.selectAll("circle.track").data(d3.zip(trackLon, trackLat)).enter().append("circle")
    .attr("class", "track")
    .attr("cx", function (d) { return lonScale(d[0]); })
    .attr("cy", function (d) { return latScale(d[1]); })
    .attr("r", 2.6).attr("fill", red);
mapPanel.marks.append("circle")
    .attr("cx", lonScale(launchLon)).attr("cy", latScale(launchLat)).attr("r", 8)
    .attr("fill", "#27AE60").attr("stroke", "#000").attr("stroke-width", 1.4);
var starPath = d3.symbol().type(d3.symbolStar).size(130)();
mapPanel.marks.append("path")
    .attr("d", starPath)
    .attr("transform", "translate(" + lonScale(lastLon) + "," + latScale(lastLat) + ")")
    .attr("fill", "#1F77B4").attr("stroke", "#000").attr("stroke-width", 1.4);
drawAxes(mapPanel, lonScale, d3.range(-180, 181, 60), d3.format("d"), latScale, d3.range(-90, 91, 30), false);
xLabel(mapPanel, 380, "Longitude (deg)");
yLabel(mapPanel, 36, "Latitude (deg)");

legendBox(mapPanel, 90, 284, 79, 48.7);
mapPanel.front.append("circle").attr("cx", 104.3).attr("cy", 292.3).attr("r", 2).attr("fill", red);
mapPanel.front.append("circle").attr("cx", 104.3).attr("cy", 308).attr("r", 8)
    .attr("fill", "#27AE60").attr("stroke", "#000").attr("stroke-width", 1.4);
mapPanel.front.append("path").attr("d", starPath).attr("transform", "translate(104.3,323.5)")
    .attr("fill", "#1F77B4").attr("stroke", "#000").attr("stroke-width", 1.4);
legendText(mapPanel, 124.3, 296, "Track");
legendText(mapPanel, 124.3, 311.5, "Launch");
legendText(mapPanel, 124.3, 326.7, "Last fix");

// ---- text block ----
var infoG = svg.append("g");
infoLines.forEach(function (line, i) {
    infoG.append("text")
        .attr("x", infoCenters[i]).attr("y", infoBaselines[i])
        .attr("text-anchor", "middle")
        .attr("font-size", infoSizes[i])
        .style("fill", infoColors[i])
        .text(line);
});

// ---- wind speed ----
var windBox = { left: 83.5, right: 786.5, top: 420.5, bottom: 727.5 };
var windPanel = makePanel(windBox, "Wind Speed vs. Time", 8.5);
var timeScale = d3.scaleUtc().domain([dayDate(-0.939), dayDate(20.016)]).range([windBox.left, windBox.right]);
var windY = d3.scaleLinear().domain([0, 100]).range([windBox.bottom, windBox.top]);
var windTicks = tickDaysWind.map(dayDate);
drawGrid(windPanel.back, windBox, timeScale, windTicks, windY, d3.range(20, 100, 20), gridColor, 0.35, null, 1);

var windRows = d3.zip(windDays, windSpeed, windErr);
var windArea = d3.area()
    .x(function (d) { return timeScale(dayDate(d[0])); })
    .y0(function (d) { return windY(d[1] - d[2]); })
    .y1(function (d) { return windY(d[1] + d[2]); });
windPanel.marks.append("path").attr("d", windArea(windRows))
    .attr("fill", "#7F8C8D").attr("fill-opacity", 0.35)
    .attr("stroke", "#7F8C8D").attr("stroke-opacity", 0.18).attr("stroke-width", 1);
windPanel.marks.selectAll("circle").data(windRows).enter().append("circle")
    .attr("cx", function (d) { return timeScale(dayDate(d[0])); })
    .attr("cy", function (d) { return windY(d[1]); })
    .attr("r", 2.1).attr("fill", "#2C3E50");
var windMeanLine = d3.line()
    .x(function (d) { return timeScale(dayDate(d[0])); })
    .y(function (d) { return windY(d[1]); });
windPanel.marks.append("path").attr("d", windMeanLine(d3.zip(meanDays, meanWind)))
    .attr("fill", "none").attr("stroke", red).attr("stroke-width", 1.9);
drawAxes(windPanel, timeScale, windTicks, dateFmt, windY, d3.range(0, 101, 20), true);
yLabel(windPanel, 34, "Wind speed (m s", "\u22121");

legendBox(windPanel, 89.3, 425.3, 162.4, 50);
windPanel.front.append("rect").attr("x", 92.7).attr("y", 430).attr("width", 24).attr("height", 9)
    .attr("fill", "#7F8C8D").attr("fill-opacity", 0.35);
windPanel.front.append("circle").attr("cx", 104.5).attr("cy", 450.3).attr("r", 2).attr("fill", "#2C3E50");
windPanel.front.append("line").attr("x1", 92.7).attr("x2", 116.7).attr("y1", 464.7).attr("y2", 464.7)
    .attr("stroke", red).attr("stroke-width", 1.9);
legendText(windPanel, 124.3, 439, "\u00B11\u03C3 propagated error");
legendText(windPanel, 124.3, 454.3, "Wind speed");
legendText(windPanel, 124.3, 470, "Daily mean");

// ---- latitude ----
var latBox = { left: 863.5, right: 1567.3, top: 420.5, bottom: 727.5 };
var latPanel = makePanel(latBox, "Latitude vs. Time", 8.5);
var latTime = d3.scaleUtc().domain([dayDate(0.014), dayDate(19.98)]).range([latBox.left, latBox.right]);
var latY = d3.scaleLinear().domain([-90, 90]).range([latBox.bottom, latBox.top]);
var latTicks = tickDaysLat.map(dayDate);
drawGrid(latPanel.back, latBox, latTime, latTicks, latY, d3.range(-60, 61, 30), gridColor, 0.35, null, 1);
latPanel.marks.selectAll("circle").data(d3.zip(latDays, latDeg)).enter().append("circle")
    .attr("cx", function (d) { return latTime(dayDate(d[0])); })
    .attr("cy", function (d) { return latY(d[1]); })
    .attr("r", 2.1).attr("fill", "#000");
drawAxes(latPanel, latTime, latTicks, dateFmt, latY, d3.range(-90, 91, 30), true);
yLabel(latPanel, 816, "Latitude (deg)");

// ---- altitude ----
var altBox = { left: 83.5, right: 786.5, top: 808.5, bottom: 1115.5 };
var altPanel = makePanel(altBox, "Balloon Altitude vs. Time", 7.5);
var altY = d3.scaleLinear().domain([12526, 13889]).range([altBox.bottom, altBox.top]);
var altTicks = d3.range(12600, 13801, 200);
drawGrid(altPanel.back, altBox, timeScale, windTicks, altY, altTicks, gridColor, 0.35, null, 1);
altPanel.marks.selectAll("circle").data(d3.zip(altDays, altMeters)).enter().append("circle")
    .attr("cx", function (d) { return timeScale(dayDate(d[0])); })
    .attr("cy", function (d) { return altY(d[1]); })
    .attr("r", 2.1).attr("fill", "#7F8C8D");
var altMeanLine = d3.line()
    .x(function (d) { return timeScale(dayDate(d[0])); })
    .y(function (d) { return altY(d[1]); });
altPanel.marks.append("path").attr("d", altMeanLine(d3.zip(meanDays, meanAlt)))
    .attr("fill", "none").attr("stroke", red).attr("stroke-width", 1.9);
drawAxes(altPanel, timeScale, windTicks, dateFmt, altY, altTicks, true);
xLabel(altPanel, 1177, "UTC date");
yLabel(altPanel, 20, "Altitude (m AMSL)");

// ---- histogram ----
var histBox = { left: 863.3, right: 1567.3, top: 808.5, bottom: 1115.5 };
var histPanel = makePanel(histBox, "U and V Wind Components", 7.5);
var histX = d3.scaleLinear().domain([-100, 100]).range([histBox.left, histBox.right]);
var histY = d3.scaleLinear().domain([0, 113.4]).range([histBox.bottom, histBox.top]);
drawGrid(histPanel.back, histBox, histX, d3.range(-75, 100, 25), histY, d3.range(20, 101, 20), gridColor, 0.35, null, 1);

function drawBars(counts, color) {
    histPanel.marks.append("g").selectAll("rect").data(d3.zip(binEdges, counts).filter(function (d) { return d[1] > 0; }))
        .enter().append("rect")
        .attr("x", function (d) { return histX(d[0]); })
        .attr("width", function (d) { return histX(d[0] + 5) - histX(d[0]); })
        .attr("y", function (d) { return histY(d[1]); })
        .attr("height", function (d) { return histY(0) - histY(d[1]); })
        .attr("fill", color).attr("fill-opacity", 0.65)
        .attr("stroke", "#000").attr("stroke-opacity", 0.8).attr("stroke-width", 1.1);
}
drawBars(uCounts, "#1F77B4");
drawBars(vCounts, "#FF7F0E");
drawAxes(histPanel, histX, d3.range(-100, 101, 25), d3.format("d"), histY, d3.range(0, 101, 20), false);
xLabel(histPanel, 1160, "Wind speed (m s", "\u22121");
yLabel(histPanel, 822, "Frequency");

legendBox(histPanel, 1442.3, 814.3, 119.4, 34);
histPanel.front.append("rect").attr("x", 1446).attr("y", 819.7).attr("width", 23).attr("height", 7)
    .attr("fill", "#1F77B4").attr("fill-opacity", 0.65).attr("stroke", "#000").attr("stroke-opacity", 0.8);
histPanel.front.append("rect").attr("x", 1446).attr("y", 835).attr("width", 23).attr("height", 7)
    .attr("fill", "#FF7F0E").attr("fill-opacity", 0.65).attr("stroke", "#000").attr("stroke-opacity", 0.8);
legendText(histPanel, 1477.3, 828, "U (zonal)");
legendText(histPanel, 1477.3, 843.3, "V (meridional)");
</script>
</body>
</html>
